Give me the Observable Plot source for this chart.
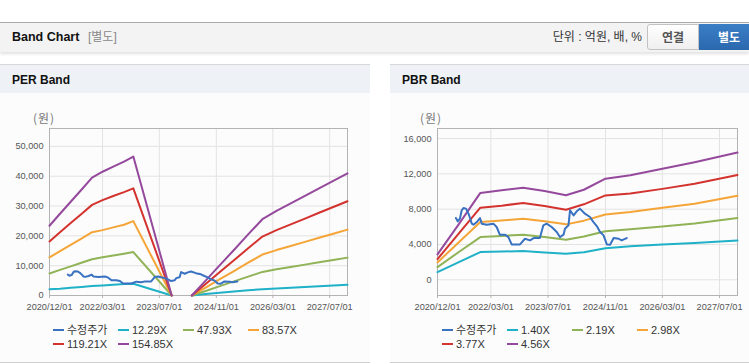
<!DOCTYPE html>
<html><head><meta charset="utf-8">
<script src="https://cdn.jsdelivr.net/npm/d3@7"></script>
<script src="https://cdn.jsdelivr.net/npm/@observablehq/plot@0.6"></script>
<style>
body{margin:0;width:749px;height:364px;overflow:hidden;position:relative;background:#fff;font-family:"Liberation Sans",Arial,"Noto Sans CJK KR",sans-serif;}
.abs{position:absolute;}
#topline{left:0;top:22px;width:749px;height:1px;background:#aaa;}
#hdr{left:0;top:23px;width:749px;height:29px;background:#f3f3f3;box-shadow:0 2px 3px rgba(0,0,0,0.12);}
#hdr .t{left:12px;top:0;line-height:29px;font-size:12.5px;font-weight:bold;color:#111;}
#hdr .s{left:88px;top:0;line-height:29px;font-size:12px;color:#888;}
#hdr .u{right:107px;top:0;line-height:29px;font-size:12px;color:#333;}
.btn{top:1px;height:24px;line-height:24px;text-align:center;font-size:12px;font-weight:bold;font-family:"Noto Sans CJK KR",sans-serif;}
#b1{left:647px;width:50px;border:1px solid #c2c2c2;border-radius:3px 0 0 3px;background:linear-gradient(#fff,#efefef);color:#555;}
#b2{left:699px;width:60px;height:26px;line-height:26px;background:linear-gradient(#3b7ec6,#2b68ae);color:#fff;}
.panel{top:64px;width:370px;height:297px;background:#fcfcfc;border-top:1px solid #d8d8d8;border-bottom:1px solid #cfcfcf;overflow:hidden;}
.ptitle{left:0;top:0;width:100%;height:28px;background:#eef2f7;}
.ptitle span{position:absolute;left:12px;top:0;line-height:30px;font-size:12px;font-weight:bold;color:#111;}
.unit{font-size:12px;color:#777;font-family:"Noto Sans CJK KR",sans-serif;letter-spacing:1px;}
.legend{font-size:11px;color:#333;}
.li{position:absolute;white-space:nowrap;height:14px;line-height:14px;}
.li i{display:inline-block;width:11px;height:2px;vertical-align:middle;margin-right:3px;position:relative;top:-1px;}
.chart{width:370px;height:215px;}
.chart svg{max-width:none !important;display:block;}
</style></head>
<body>
<div class="abs" id="topline"></div>
<div class="abs" id="hdr">
  <div class="abs t">Band Chart</div>
  <div class="abs s">[별도]</div>
  <div class="abs u">단위 : 억원, 배, %</div>
  <div class="abs btn" id="b1">연결</div>
  <div class="abs btn" id="b2">별도</div>
</div>
<div class="abs panel" id="p1" style="left:0"><div class="abs ptitle"><span>PER Band</span></div></div>
<div class="abs panel" id="p2" style="left:390px"><div class="abs ptitle"><span>PBR Band</span></div></div>
<div class="abs unit" style="left:33px;top:109px">(원)</div>
<div class="abs unit" style="left:420px;top:109px">(원)</div>
<div class="abs chart" id="c1" style="left:0;top:100px"></div>
<div class="abs chart" id="c2" style="left:390px;top:100px"></div>
<div class="abs legend" id="l1" style="left:53px;top:323px"></div>
<div class="abs legend" id="l2" style="left:442px;top:323px"></div>
<script>
// ---- shared x ticks ----
const xTickDates = ["2020-12-01","2022-03-01","2023-07-01","2024-11-01","2026-03-01","2027-07-01"];
const xDomain = ["2020-12-01","2027-12-01"];

// ---- adjusted price (수정주가) ----
const priceDates = ["2021-05-07","2021-05-22","2021-06-10","2021-06-25","2021-07-10","2021-08-01","2021-08-22","2021-09-04","2021-09-19","2021-10-04","2021-11-01","2021-11-28","2021-12-13","2022-01-25","2022-03-22","2022-04-19","2022-05-16","2022-06-28","2022-07-28","2022-08-25","2022-11-04","2022-12-16","2023-01-28","2023-02-28","2023-04-22","2023-05-22","2023-06-19","2023-08-01","2023-09-13","2023-10-10","2023-11-10","2023-11-22","2023-12-22","2024-01-04","2024-02-04","2024-03-01","2024-03-28","2024-05-10","2024-06-22","2024-07-22","2024-08-19","2024-09-16","2024-10-16","2024-11-13","2024-12-10","2025-01-10","2025-02-22","2025-03-19","2025-05-01"];
const priceValues = [7000,6620,6920,7870,8130,8060,7490,7000,6360,6240,6540,7000,6360,6240,6360,5980,5110,5110,4840,4010,4010,4650,4460,4730,4730,6170,6360,5980,5410,4840,5110,5790,6170,7870,7300,7760,8060,7490,7110,6540,6090,5410,5030,4010,3970,4730,4650,4460,4730];

// ---- PER band ----
const perNames = ["수정주가","12.29X","47.93X","83.57X","119.21X","154.85X"];
const perDates = ["2020-12-01","2021-03-01","2021-06-01","2021-09-01","2021-12-01","2022-03-01","2022-06-01","2022-09-01","2022-11-20","2023-10-15","2024-01-10","2024-04-05","2024-08-01","2024-12-01","2025-04-01","2025-08-01","2025-12-01","2026-04-01","2026-08-01","2026-12-01","2027-04-01","2027-08-01","2027-12-01"];
const per1229  = [2130,2300,2600,2880,3150,3380,3600,3850,3950,0,null,0,480,900,1350,1750,2130,2350,2600,2850,3100,3330,3580];
const per4793  = [7390,8580,9770,10970,12160,12830,13430,14010,14550,0,null,0,1530,3140,4720,6330,7910,8800,9570,10350,11150,11920,12700];
const per8357  = [12760,14880,16990,19100,21220,21920,22840,23740,24950,0,null,0,2660,5460,8190,10990,13730,15230,16580,17970,19350,20700,22090];
const per11921 = [18130,21190,24280,27300,30390,31970,33350,34670,35920,0,null,0,3840,7870,11810,15830,19770,21930,23840,25800,27760,29680,31620];
const per15485 = [23390,27420,31440,35470,39500,41500,43190,44870,46600,0,null,0,4970,10180,15270,20480,25580,28380,30860,33400,35940,38420,40960];
const perYTicks = [0,10000,20000,30000,40000,50000];
const perYDomain = [0,56000];

// ---- PBR band ----
const pbrNames = ["수정주가","1.40X","2.19X","2.98X","3.77X","4.56X"];
const pbrDates = ["2020-12-01","2021-06-01","2021-12-01","2022-06-01","2022-12-01","2023-06-01","2023-12-01","2024-05-01","2024-11-01","2025-06-01","2026-03-01","2026-12-01","2027-12-01"];
const pbr140 = [870,2000,3140,3200,3250,3100,2950,3120,3570,3810,4000,4180,4460];
const pbr219 = [1440,3150,4840,4960,5110,4850,4540,4900,5500,5720,6040,6380,7000];
const pbr298 = [1970,4250,6540,6720,6920,6620,6280,6700,7400,7680,8150,8620,9530];
const pbr377 = [2350,5250,8170,8400,8700,8350,7940,8550,9560,9770,10300,10870,11880];
const pbr456 = [2875,6300,9840,10150,10440,10060,9570,10200,11450,11850,12580,13320,14410];
const pbrYTicks = [0,4000,8000,12000,16000];
const pbrYDomain = [-1780,17140];

const seriesColors = ["#3a72c2","#1fb1c7","#8fb356","#f5a537","#d3332e","#95499c"];

function rows(names, dates, arrays){
  const out = [];
  arrays.forEach((arr, k) => arr.forEach((v, i) => out.push({series: names[k+1], date: new Date(dates[i]), value: v})));
  return out;
}
const priceRows = priceDates.map((d,i) => ({series:"수정주가", date:new Date(d), value:priceValues[i]}));

function chart(names, bandRows, yTicks, yDomain, marginLeft){
  const ticks = xTickDates.map(d => new Date(d));
  return Plot.plot({
    width: 370, height: 215,
    marginTop: 28, marginBottom: 20, marginLeft, marginRight: 23,
    style: {fontFamily: '"Liberation Sans", Arial, sans-serif', fontSize: "9px", color: "#555", background: "transparent", overflow: "visible", maxWidth: "none"},
    x: {type: "utc", domain: xDomain.map(d => new Date(d)), label: null},
    y: {domain: yDomain, label: null},
    color: {domain: names, range: seriesColors},
    marks: [
      Plot.gridX(ticks, {stroke: "#e3e3e3", strokeOpacity: 1}),
      Plot.gridY(yTicks, {stroke: "#e3e3e3", strokeOpacity: 1}),
      Plot.frame({stroke: "#b3b3b3"}),
      Plot.axisX(ticks, {tickFormat: d3.utcFormat("%Y/%m/%d"), tickSize: 3, tickPadding: 4.5, stroke: "#b3b3b3", fill: "#555", fontSize: 9.2, label: null}),
      Plot.axisY(yTicks, {tickFormat: d3.format(","), tickSize: 0, tickPadding: 6, fill: "#555", fontSize: 9.2, label: null}),
      Plot.line(bandRows, {x: "date", y: "value", z: "series", stroke: "series", strokeWidth: 2, curve: "linear"}),
      Plot.line(priceRows, {x: "date", y: "value", stroke: "series", strokeWidth: 2})
    ]
  });
}

document.getElementById("c1").append(chart(perNames, rows(perNames, perDates, [per1229, per4793, per8357, per11921, per15485]), perYTicks, perYDomain, 49));
document.getElementById("c2").append(chart(pbrNames, rows(pbrNames, pbrDates, [pbr140, pbr219, pbr298, pbr377, pbr456]), pbrYTicks, pbrYDomain, 47));

function legend(id, names){
  const el = document.getElementById(id);
  names.forEach((n, i) => {
    const d = document.createElement("div");
    d.className = "li";
    d.style.left = (i % 4) * 65 + "px";
    d.style.top = Math.floor(i / 4) * 14 + "px";
    d.innerHTML = `<i style="background:${seriesColors[i]}"></i>${n}`;
    el.append(d);
  });
}
legend("l1", perNames);
legend("l2", pbrNames);
</script>
</body></html>
